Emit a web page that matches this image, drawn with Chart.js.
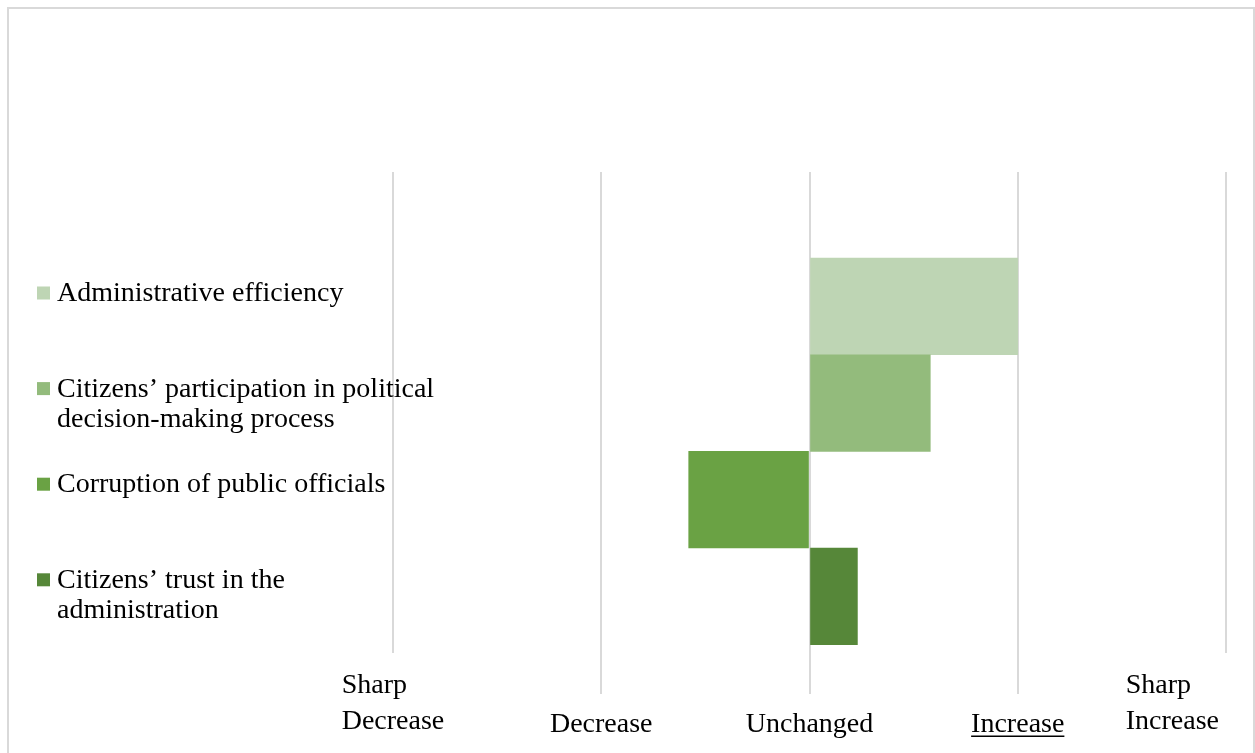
<!DOCTYPE html>
<html>
<head>
<meta charset="utf-8">
<script src="https://cdn.jsdelivr.net/npm/chart.js@4/dist/chart.umd.min.js"></script>
<style>
  html, body { margin: 0; padding: 0; background: #ffffff; }
  #wrap { width: 1255px; height: 753px; position: relative; }
</style>
</head>
<body>
<div id="wrap"><canvas id="c" width="1255" height="753"></canvas></div>
<script>
// ---- data ----
const categories = [
  'Administrative efficiency',
  ['Citizens\u2019 participation in political', 'decision-making process'],
  'Corruption of public officials',
  ['Citizens\u2019 trust in the', 'administration']
];
const changeValues = [1.0, 0.58, -0.58, 0.23];
const xTickValues = [-2, -1, 0, 1, 2];
const xTickLabels = [['Sharp', 'Decrease'], 'Decrease', 'Unchanged', 'Increase', ['Sharp', 'Increase']];
const barColors = ['#BED5B4', '#93BB7C', '#6AA244', '#568739'];

const FONT = '28px "Liberation Serif", "Times New Roman", serif';

const framePlugin = {
  id: 'frame',
  beforeDraw(chart) {
    const ctx = chart.ctx;
    ctx.save();
    ctx.fillStyle = '#ffffff';
    ctx.fillRect(0, 0, chart.width, chart.height);
    ctx.strokeStyle = '#D9D9D9';
    ctx.lineWidth = 2;
    ctx.strokeRect(8, 8, chart.width - 9, chart.height + 20);
    ctx.restore();
  }
};

const sideLegendPlugin = {
  id: 'sideLegend',
  afterDraw(chart, args, opts) {
    const ctx = chart.ctx;
    const colors = chart.data.datasets[0].backgroundColor;
    ctx.save();
    ctx.font = FONT;
    ctx.textAlign = 'left';
    ctx.textBaseline = 'alphabetic';
    categories.forEach((lab, i) => {
      const lines = Array.isArray(lab) ? lab : [lab];
      const base = opts.firstBaseline + i * opts.itemSpacing;
      ctx.fillStyle = colors[i];
      ctx.fillRect(opts.boxX, base - 1.5 - opts.boxSize, opts.boxSize, opts.boxSize);
      ctx.fillStyle = '#000000';
      lines.forEach((ln, j) => ctx.fillText(ln, opts.textX, base + j * opts.lineHeight));
    });
    ctx.restore();
  }
};

const xLabelPlugin = {
  id: 'xLabels',
  afterDraw(chart, args, opts) {
    const ctx = chart.ctx;
    const xs = chart.scales.x;
    const ca = chart.chartArea;
    ctx.save();
    ctx.font = FONT;
    ctx.textAlign = 'left';
    ctx.textBaseline = 'alphabetic';
    ctx.fillStyle = '#000000';
    xTickValues.forEach((v, i) => {
      const lab = xTickLabels[i];
      const lines = Array.isArray(lab) ? lab : [lab];
      const w = Math.max(...lines.map(l => ctx.measureText(l).width));
      let left = xs.getPixelForValue(v) - w / 2;
      left = Math.min(left, ca.right - opts.rightInset - w);
      const lastBase = lines.length > 1 ? ca.bottom + opts.multiLastOffset : ca.bottom + opts.singleOffset;
      lines.forEach((ln, j) => {
        const y = lastBase - (lines.length - 1 - j) * opts.lineHeight;
        ctx.fillText(ln, left, y);
        if (opts.underline.includes(ln) && lines.length === 1) {
          const lw = ctx.measureText(ln).width;
          ctx.fillRect(left, y + 3.5, lw, 1.5);
        }
      });
    });
    ctx.restore();
  }
};

new Chart(document.getElementById('c'), {
  type: 'bar',
  data: {
    datasets: [{
      label: 'Change',
      data: changeValues.map((v, i) => ({ x: v, y: i + 1 })),
      backgroundColor: barColors,
      borderWidth: 0,
      barPercentage: 1,
      categoryPercentage: 1
    }]
  },
  options: {
    indexAxis: 'y',
    responsive: false,
    animation: false,
    events: [],
    layout: { padding: { left: 393, right: 29, top: 172, bottom: 59 } },
    scales: {
      x: {
        type: 'linear',
        min: -2,
        max: 2,
        afterBuildTicks: (scale) => { scale.ticks = xTickValues.map(v => ({ value: v })); },
        ticks: { display: false },
        border: { display: false },
        grid: {
          color: '#D9D9D9',
          lineWidth: 2,
          drawTicks: true,
          tickLength: 41,
          tickColor: (ctx) => (ctx.tick && Math.abs(ctx.tick.value) === 2) ? 'rgba(0,0,0,0)' : '#D9D9D9'
        }
      },
      y: {
        type: 'linear',
        display: false,
        offset: false,
        reverse: true,
        min: -0.392,
        max: 4.587,
        afterBuildTicks: (scale) => { scale.ticks = categories.map((_, i) => ({ value: i + 1 })); }
      }
    },
    plugins: {
      legend: { display: false },
      tooltip: { enabled: false },
      sideLegend: { firstBaseline: 301, itemSpacing: 95.6, lineHeight: 30.5, boxX: 37, textX: 57, boxSize: 13 },
      xLabels: { rightInset: 7, multiLastOffset: 75.5, singleOffset: 79, lineHeight: 36, underline: ['Increase'] }
    }
  },
  plugins: [framePlugin, sideLegendPlugin, xLabelPlugin]
});
</script>
</body>
</html>
